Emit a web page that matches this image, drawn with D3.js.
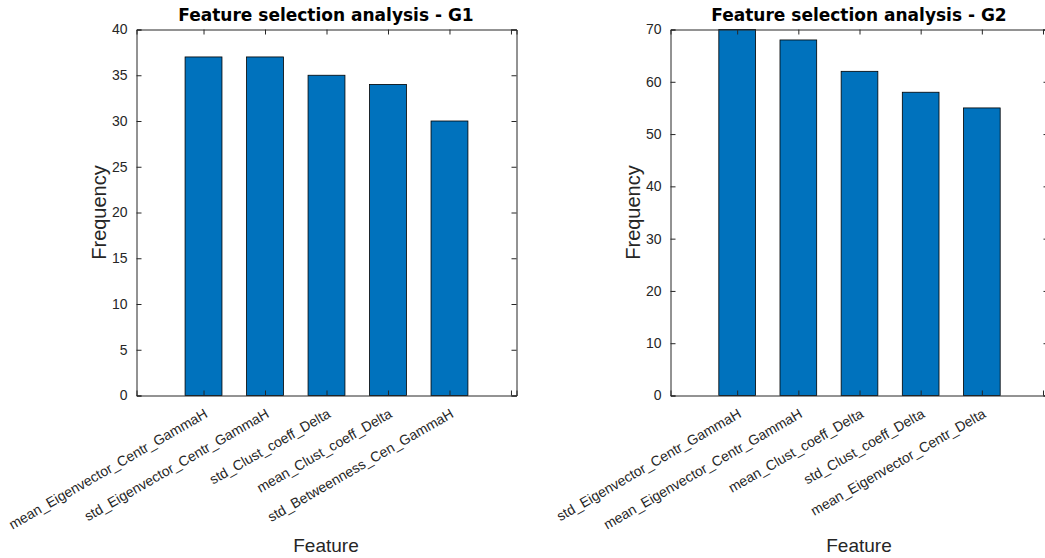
<!DOCTYPE html>
<html>
<head>
<meta charset="utf-8">
<script src="https://cdn.jsdelivr.net/npm/d3@7"></script>
<style>
body { margin: 0; background: #fff; }
svg { display: block; }
</style>
</head>
<body>
<svg></svg>
<script>
'use strict';

var featuresG1 = ['mean_Eigenvector_Centr_GammaH', 'std_Eigenvector_Centr_GammaH', 'std_Clust_coeff_Delta', 'mean_Clust_coeff_Delta', 'std_Betweenness_Cen_GammaH'];
var valuesG1 = [37, 37, 35, 34, 30];
var featuresG2 = ['std_Eigenvector_Centr_GammaH', 'mean_Eigenvector_Centr_GammaH', 'mean_Clust_coeff_Delta', 'std_Clust_coeff_Delta', 'mean_Eigenvector_Centr_Delta'];
var valuesG2 = [70, 68, 62, 58, 55];
var yTicksG1 = [0, 5, 10, 15, 20, 25, 30, 35, 40];
var yTicksG2 = [0, 10, 20, 30, 40, 50, 60, 70];
var xTicks = [1, 2, 3, 4, 5, 6];

function render() {
    var w = 1045;
    var h = 558;
    var d3 = window.d3;
    var axisColor = '#262626';
    var barColor = '#0072bd';

    var svg = d3.select('svg').attr('width', w).attr('height', h);

    function panel(opts) {
        var x = d3.scaleLinear().domain([-0.09, 6.09]).range([opts.left, opts.right]);
        var y = d3.scaleLinear().domain([0, opts.yMax]).range([opts.bottom, opts.top]);
        var g = svg.append('g');
        var barW = x(0.6) - x(0);

        // bars
        g.selectAll('.bar').data(opts.values).enter().append('rect')
            .attr('class', 'bar')
            .attr('x', function (d, i) { return x(i + 1) - barW / 2; })
            .attr('y', function (d) { return y(d); })
            .attr('width', barW)
            .attr('height', function (d) { return y(0) - y(d); })
            .attr('fill', barColor)
            .attr('stroke', '#000')
            .attr('stroke-width', 0.8);

        // axes, ticks pointing inward like matlab
        var fmt = function (d) { return d; };
        var left = g.append('g').attr('transform', 'translate(' + opts.left + ',0)')
            .call(d3.axisLeft(y).tickValues(opts.yTicks).tickSize(-5).tickPadding(9).tickFormat(fmt));
        var right = g.append('g').attr('transform', 'translate(' + opts.right + ',0)')
            .call(d3.axisRight(y).tickValues(opts.yTicks).tickSize(-5).tickFormat(''));
        var bottom = g.append('g').attr('transform', 'translate(0,' + opts.bottom + ')')
            .call(d3.axisBottom(x).tickValues(xTicks).tickSize(-5).tickFormat(''));
        var top = g.append('g').attr('transform', 'translate(0,' + opts.top + ')')
            .call(d3.axisTop(x).tickValues(xTicks).tickSize(-5).tickFormat(''));

        [left, right, bottom, top].forEach(function (a) {
            a.select('.domain').attr('stroke', axisColor).attr('stroke-width', 1);
            a.selectAll('.tick line').attr('stroke', axisColor).attr('stroke-width', 1);
            a.selectAll('text').attr('fill', axisColor)
                .style('font-family', '"Liberation Sans", Arial, sans-serif')
                .style('font-size', '14px');
        });

        // rotated category labels
        g.selectAll('.xlab').data(opts.features).enter().append('text')
            .attr('class', 'xlab')
            .attr('transform', function (d, i) {
                return 'translate(' + (x(i + 1) + 5) + ',' + (opts.bottom + 21) + ') rotate(-30)';
            })
            .attr('text-anchor', 'end')
            .attr('fill', axisColor)
            .style('font-family', '"Liberation Sans", Arial, sans-serif')
            .style('font-size', '14px')
            .text(function (d) { return d; });

        g.append('text')
            .attr('x', opts.titleX)
            .attr('y', 21)
            .attr('text-anchor', 'middle')
            .attr('fill', '#000')
            .style('font-family', '"DejaVu Sans", Verdana, sans-serif')
            .style('font-weight', 'bold')
            .style('font-size', '17px')
            .text(opts.title);

        g.append('text')
            .attr('transform', 'translate(' + opts.ylabelX + ',' + ((opts.top + opts.bottom) / 2) + ') rotate(-90)')
            .attr('text-anchor', 'middle')
            .attr('fill', axisColor)
            .style('font-family', '"Liberation Sans", Arial, sans-serif')
            .style('font-size', '20px')
            .text('Frequency');

        g.append('text')
            .attr('x', opts.xlabelX)
            .attr('y', 552)
            .attr('text-anchor', 'middle')
            .attr('fill', axisColor)
            .style('font-family', '"Liberation Sans", Arial, sans-serif')
            .style('font-size', '19px')
            .text('Feature');
    }

    panel({
        left: 136.5, right: 516.5, top: 29.5, bottom: 395.5,
        yMax: 40, yTicks: yTicksG1,
        features: featuresG1, values: valuesG1,
        title: 'Feature selection analysis - G1',
        titleX: 326, xlabelX: 326, ylabelX: 106
    });

    panel({
        left: 670.5, right: 1048.5, top: 29.5, bottom: 395.5,
        yMax: 70, yTicks: yTicksG2,
        features: featuresG2, values: valuesG2,
        title: 'Feature selection analysis - G2',
        titleX: 859, xlabelX: 859, ylabelX: 640
    });
}

render();
</script>
</body>
</html>
